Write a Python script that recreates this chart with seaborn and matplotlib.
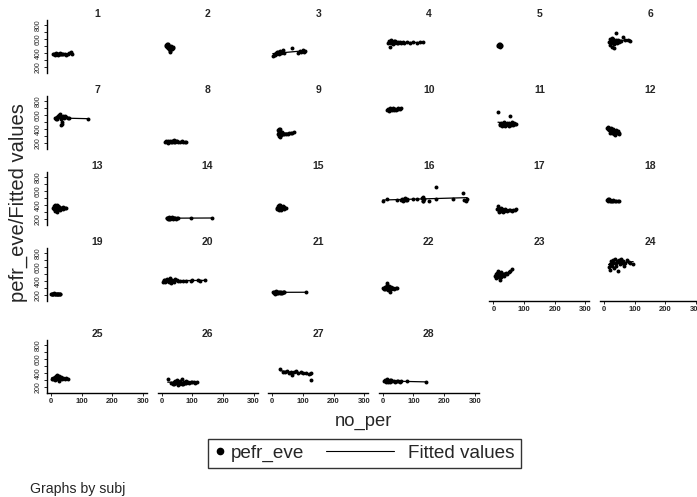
import numpy as np
import pandas as pd
import seaborn as sns
import matplotlib.pyplot as plt
from matplotlib.lines import Line2D
from matplotlib.legend_handler import HandlerBase


# evening peak flow (pefr_eve) against no_per, one panel per subject
x01 = [8, 10, 12, 14, 16, 18, 20, 22, 24, 26, 28, 30, 33, 36, 40, 45, 50, 55, 60, 64, 68]
y01 = [380, 392, 385, 378, 395, 388, 382, 390, 376, 386, 393, 380, 388, 384, 379, 386, 377, 383, 398, 410, 392]
x02 = [14, 16, 18, 18, 20, 21, 22, 23, 24, 25, 26, 27, 28, 30, 32, 34, 36, 38]
y02 = [520, 500, 535, 480, 510, 470, 525, 495, 455, 505, 430, 490, 410, 470, 500, 450, 480, 470]
x03 = [2, 5, 8, 10, 12, 14, 16, 18, 20, 22, 25, 28, 32, 36, 40, 65, 85, 90, 95, 100, 104, 108]
y03 = [360, 375, 390, 370, 400, 385, 410, 395, 420, 380, 430, 405, 415, 440, 400, 470, 400, 430, 415, 440, 410, 425]
x04 = [18, 20, 22, 24, 26, 28, 30, 32, 35, 38, 40, 42, 45, 48, 50, 55, 60, 65, 70, 80, 90, 100, 110, 120, 130]
y04 = [545, 570, 490, 555, 580, 540, 560, 535, 565, 548, 572, 550, 538, 560, 545, 555, 548, 552, 545, 550, 540, 555, 548, 552, 550]
x05 = [15, 16, 17, 18, 18, 19, 20, 20, 21, 22, 22, 23, 24, 25]
y05 = [505, 520, 495, 515, 530, 500, 525, 490, 510, 520, 500, 515, 505, 510]
x06 = [15, 18, 20, 22, 24, 25, 27, 28, 30, 32, 34, 36, 38, 40, 42, 45, 48, 52, 55, 62, 70, 78, 85]
y06 = [560, 600, 520, 580, 540, 610, 490, 570, 600, 530, 475, 560, 686, 590, 545, 580, 560, 565, 575, 629, 580, 585, 575]
x07 = [13, 15, 17, 18, 20, 22, 24, 26, 28, 30, 32, 33, 35, 36, 38, 40, 42, 45, 50, 55, 60, 120]
y07 = [550, 560, 540, 575, 545, 590, 565, 600, 580, 610, 545, 450, 470, 500, 590, 570, 560, 585, 575, 560, 555, 545]
x08 = [12, 15, 18, 20, 22, 25, 28, 30, 33, 35, 38, 40, 42, 45, 48, 50, 55, 60, 65, 70, 75, 80]
y08 = [215, 225, 210, 230, 205, 220, 235, 215, 225, 210, 228, 218, 240, 212, 222, 230, 215, 220, 225, 210, 218, 215]
x09 = [18, 20, 21, 22, 23, 24, 25, 26, 27, 28, 30, 32, 35, 40, 45, 50, 55, 60, 65, 70]
y09 = [330, 380, 300, 405, 350, 290, 370, 320, 395, 340, 310, 360, 335, 330, 325, 330, 345, 350, 340, 355]
x10 = [15, 18, 20, 22, 25, 28, 30, 32, 35, 38, 40, 42, 45, 48, 50, 55, 60]
y10 = [670, 690, 660, 700, 675, 685, 665, 695, 680, 670, 690, 675, 685, 700, 680, 690, 695]
x11 = [15, 20, 22, 25, 28, 30, 32, 35, 38, 40, 42, 45, 48, 50, 52, 55, 58, 60, 62, 65, 68, 70, 75]
y11 = [640, 470, 450, 490, 445, 480, 460, 500, 440, 475, 455, 490, 470, 445, 480, 590, 460, 495, 470, 450, 485, 465, 475]
x12 = [10, 12, 14, 15, 17, 18, 20, 22, 24, 25, 27, 28, 30, 32, 34, 35, 38, 40, 42, 45, 48, 50]
y12 = [420, 400, 430, 380, 410, 350, 395, 370, 415, 340, 385, 360, 400, 330, 375, 320, 390, 355, 345, 370, 335, 350]
x13 = [7, 9, 10, 12, 14, 15, 17, 18, 20, 22, 24, 25, 27, 30, 32, 35, 38, 40, 45, 50]
y13 = [360, 380, 340, 395, 320, 370, 350, 400, 300, 385, 345, 365, 375, 330, 360, 355, 370, 350, 360, 355]
x14 = [17, 19, 20, 22, 24, 25, 27, 28, 30, 32, 34, 35, 37, 40, 42, 45, 48, 50, 55, 95, 163]
y14 = [210, 220, 200, 215, 205, 225, 212, 198, 218, 208, 222, 214, 204, 216, 210, 220, 206, 212, 215, 218, 212]
x15 = [15, 17, 18, 20, 21, 22, 24, 25, 26, 28, 30, 32, 34, 36, 38, 40, 45]
y15 = [360, 340, 385, 350, 395, 330, 370, 400, 345, 365, 325, 375, 355, 390, 350, 365, 360]
x16 = [0, 15, 45, 60, 62, 65, 68, 70, 72, 75, 78, 80, 100, 110, 128, 130, 130, 132, 134, 150, 172, 175, 230, 260, 265, 270, 275]
y16 = [455, 480, 475, 470, 490, 460, 485, 475, 495, 465, 480, 470, 490, 480, 500, 460, 520, 450, 480, 455, 657, 480, 485, 571, 470, 450, 480]
x17 = [13, 15, 17, 18, 20, 22, 24, 25, 27, 28, 30, 32, 35, 38, 40, 45, 50, 55, 60, 65, 70, 75]
y17 = [340, 385, 320, 300, 350, 330, 310, 360, 325, 345, 305, 335, 320, 340, 330, 315, 325, 330, 320, 335, 330, 340]
x18 = [10, 12, 13, 14, 15, 16, 18, 20, 22, 25, 28, 30, 35, 40, 45, 50]
y18 = [470, 480, 455, 475, 465, 485, 460, 470, 455, 460, 465, 460, 462, 458, 460, 462]
x19 = [0, 2, 4, 6, 8, 10, 12, 14, 16, 18, 20, 22, 24, 26, 28, 30]
y19 = [215, 220, 210, 218, 212, 222, 208, 216, 220, 210, 214, 218, 212, 216, 210, 215]
x20 = [5, 8, 10, 12, 15, 18, 20, 22, 25, 28, 30, 32, 35, 38, 40, 45, 50, 55, 60, 70, 80, 95, 100, 120, 125, 140]
y20 = [390, 410, 380, 420, 400, 430, 395, 410, 385, 440, 405, 375, 420, 400, 390, 430, 410, 400, 395, 400, 405, 395, 410, 420, 405, 410]
x21 = [3, 5, 7, 8, 10, 12, 14, 15, 17, 18, 20, 22, 24, 25, 28, 30, 32, 35, 38, 40, 111]
y21 = [250, 230, 245, 220, 240, 255, 235, 225, 245, 230, 250, 240, 235, 245, 230, 240, 235, 240, 238, 242, 240]
x22 = [2, 5, 7, 8, 10, 12, 13, 14, 15, 16, 17, 18, 20, 22, 24, 26, 28, 30, 34, 38, 42, 45]
y22 = [300, 290, 310, 280, 320, 300, 340, 290, 370, 320, 270, 310, 330, 250, 300, 285, 310, 295, 300, 290, 305, 300]
x23 = [5, 8, 10, 12, 14, 15, 16, 18, 20, 22, 24, 25, 26, 28, 30, 32, 34, 36, 38, 40, 45, 50, 55, 60]
y23 = [470, 500, 440, 520, 480, 460, 540, 495, 420, 510, 470, 530, 450, 490, 500, 480, 505, 470, 495, 520, 500, 530, 540, 570]
x24 = [15, 18, 20, 22, 25, 28, 30, 32, 35, 38, 40, 42, 45, 48, 50, 52, 55, 58, 60, 62, 65, 70, 75, 80, 85, 95]
y24 = [600, 640, 560, 680, 620, 700, 650, 590, 720, 660, 610, 690, 540, 670, 700, 640, 710, 680, 650, 690, 620, 660, 700, 670, 650, 640]
x25 = [2, 5, 8, 10, 12, 14, 15, 16, 18, 20, 22, 24, 25, 26, 28, 30, 32, 34, 36, 40, 45, 50, 57]
y25 = [320, 330, 310, 325, 340, 300, 355, 320, 370, 330, 310, 345, 360, 290, 335, 315, 340, 325, 310, 330, 320, 325, 315]
x26 = [20, 30, 38, 40, 42, 45, 48, 50, 52, 55, 58, 60, 62, 65, 68, 70, 72, 75, 78, 80, 85, 90, 95, 100, 105, 110, 114]
y26 = [310, 260, 250, 270, 240, 280, 255, 300, 230, 265, 245, 285, 260, 310, 250, 240, 275, 260, 290, 255, 265, 260, 270, 265, 270, 260, 265]
x27 = [26, 35, 42, 48, 55, 60, 65, 70, 78, 85, 95, 100, 110, 120, 125, 128]
y27 = [450, 420, 410, 430, 400, 415, 370, 410, 425, 405, 410, 400, 395, 390, 400, 300]
x28 = [5, 8, 10, 12, 15, 18, 20, 22, 25, 28, 30, 35, 40, 45, 50, 55, 60, 80, 140]
y28 = [280, 300, 270, 290, 310, 265, 285, 295, 275, 300, 280, 290, 270, 285, 280, 275, 285, 280, 275]

xs = [x01, x02, x03, x04, x05, x06, x07, x08, x09, x10, x11, x12, x13, x14,
      x15, x16, x17, x18, x19, x20, x21, x22, x23, x24, x25, x26, x27, x28]
ys = [y01, y02, y03, y04, y05, y06, y07, y08, y09, y10, y11, y12, y13, y14,
      y15, y16, y17, y18, y19, y20, y21, y22, y23, y24, y25, y26, y27, y28]

x_ticks = [0, 100, 200, 300]
y_ticks = [200, 400, 600, 800]

# long format, like the original dataset
df = pd.concat([pd.DataFrame({"subj": i + 1, "no_per": x, "pefr_eve": y})
                for i, (x, y) in enumerate(zip(xs, ys))], ignore_index=True)

sns.set_style("white")
plt.rcParams["font.family"] = ["Liberation Sans", "DejaVu Sans"]
narrow = ["Liberation Sans Narrow", "Liberation Sans", "DejaVu Sans"]

W, H = 697, 497
fig = plt.figure(figsize=(W / 100, H / 100), dpi=100)

bottom_panels = {23, 24, 25, 26, 27, 28}

for s in range(1, 29):
    r, c = divmod(s - 1, 6)
    left = 47 + 110.6 * c
    top = 20 + 76 * r if r < 4 else 340
    ax = fig.add_axes([left / W, 1 - (top + 53) / H, 100 / W, 53 / H])
    sub = df[df.subj == s]
    sns.regplot(data=sub, x="no_per", y="pefr_eve", ax=ax, ci=None, truncate=True,
                scatter_kws=dict(s=8, color="k", linewidths=0, alpha=1),
                line_kws=dict(color="k", lw=0.9))
    ax.set_xlim(-13, 313)
    ax.set_ylim(115, 870)
    ax.set_xlabel("")
    ax.set_ylabel("")
    ax.set_facecolor("none")
    for sp in ["top", "right"]:
        ax.spines[sp].set_visible(False)
    ax.set_title(str(s), fontsize=7.5, pad=2, fontweight="bold", family=narrow)

    if c == 0:
        ax.spines["left"].set_color("k")
        ax.spines["left"].set_linewidth(1.0)
        ax.set_yticks(y_ticks)
        ax.set_yticks([300, 500, 700], minor=True)
        ax.tick_params(axis="y", which="both", left=True, direction="out",
                       length=2.2, width=0.7, pad=1.5, labelsize=5)
        for lab in ax.get_yticklabels():
            lab.set_rotation(90)
            lab.set_va("center")
            lab.set_family(narrow)
    else:
        ax.spines["left"].set_visible(False)
        ax.set_yticks([])

    if s in bottom_panels:
        ax.spines["bottom"].set_color("k")
        ax.spines["bottom"].set_linewidth(1.0)
        ax.set_xticks(x_ticks)
        ax.tick_params(axis="x", bottom=True, direction="out",
                       length=2.2, width=0.7, pad=1.5, labelsize=5.5)
        for lab in ax.get_xticklabels():
            lab.set_family(narrow)
            lab.set_fontweight("bold")
    else:
        ax.spines["bottom"].set_visible(False)
        ax.set_xticks([])

fig.text(18 / W, 1 - 203 / H, "pefr_eve/Fitted values", rotation=90,
         ha="center", va="center", fontsize=14.5)
fig.text(363 / W, 1 - 421 / H, "no_per", ha="center", va="center", fontsize=13.2)
fig.text(30 / W, 1 - 489 / H, "Graphs by subj", ha="left", va="center", fontsize=10.2)


# legend: short key for the dots, long line key for the fit
class LongLine(HandlerBase):
    def create_artists(self, legend, orig_handle, xdescent, ydescent,
                       width, height, fontsize, trans):
        y = height / 2 - ydescent
        ln = Line2D([-xdescent - 3.45 * fontsize, -xdescent + 0.13 * fontsize],
                    [y, y], color="k", lw=0.8)
        ln.set_transform(trans)
        return [ln]


dot = Line2D([], [], marker="o", ls="", color="k", ms=4.5)
fit = Line2D([], [], color="k", lw=0.8)
leg = fig.legend([dot, fit], ["pefr_eve", "Fitted values"], loc="center",
                 bbox_to_anchor=(364.5 / W, 1 - 453.5 / H), ncol=2,
                 frameon=True, fancybox=False, edgecolor="k", fontsize=13.6,
                 handlelength=0.6, handletextpad=0.3, columnspacing=4.6,
                 borderpad=0.3, handler_map={fit: LongLine()})
leg.get_frame().set_linewidth(1.0)

fig.savefig("out.png", dpi=100)
